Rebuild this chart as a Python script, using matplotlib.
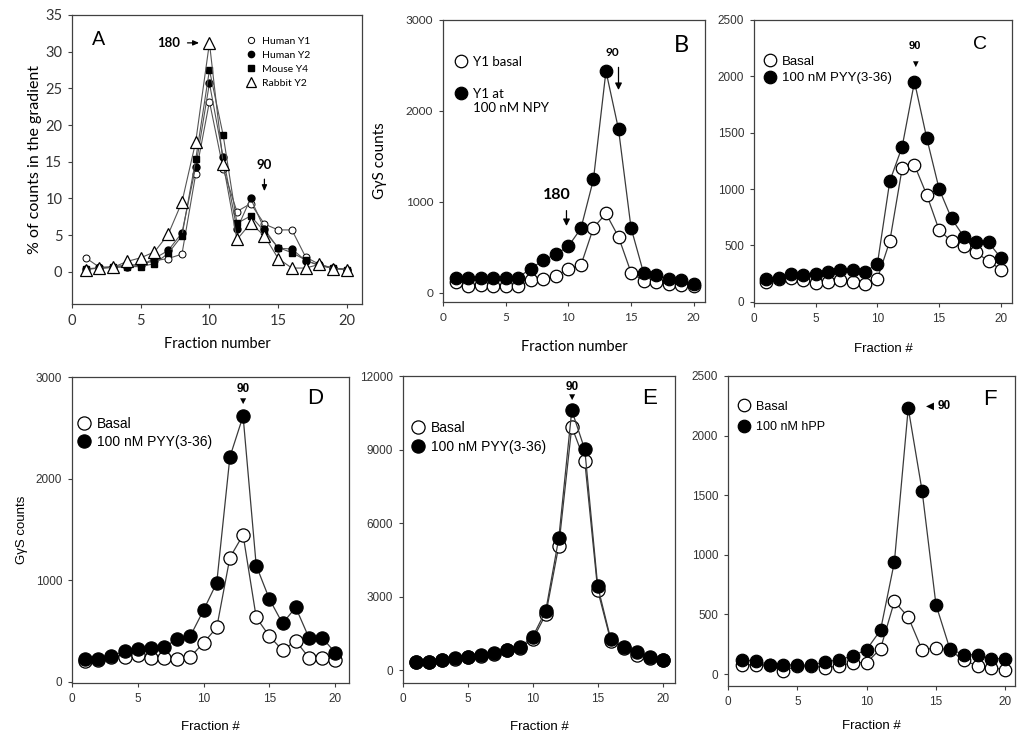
import numpy as np
import matplotlib
matplotlib.use('Agg')
import matplotlib.pyplot as plt
from matplotlib.lines import Line2D

# Fractions 1..20
fractions = np.arange(1, 21)

# Panel A, % of counts in the gradient
human_y1 = [1.9, 0.6, 0.7, 0.9, 1.0, 1.5, 1.8, 2.4, 13.3, 23.2, 14.0, 8.2, 9.3, 6.5, 5.7, 5.7, 2.0, 1.0, 0.5, 0.3]
human_y2 = [0.4, 0.5, 0.6, 0.7, 0.9, 1.8, 2.9, 5.3, 14.3, 25.7, 15.6, 5.8, 10.0, 5.8, 3.2, 3.1, 1.5, 0.9, 0.5, 0.3]
mouse_y4 = [0.4, 0.5, 0.6, 0.7, 0.7, 1.1, 2.5, 4.9, 15.3, 27.5, 18.6, 6.6, 7.6, 5.5, 3.3, 2.6, 1.6, 0.8, 0.5, 0.3]
rabbit_y2 = [0.3, 0.5, 0.6, 1.4, 1.9, 2.7, 5.1, 9.5, 17.7, 31.2, 14.7, 4.4, 6.6, 4.9, 1.8, 0.5, 0.5, 1.0, 0.4, 0.3]

# Panel B, Y1 GgS counts
b_basal = [121, 73, 84, 73, 73, 73, 139, 158, 183, 268, 304, 715, 873, 616, 224, 132, 121, 103, 84, 73]
b_npy = [169, 169, 169, 169, 169, 169, 268, 359, 425, 513, 708, 1247, 2438, 1800, 715, 220, 194, 158, 139, 103]

# Panel C
c_basal = [177, 200, 215, 192, 169, 177, 192, 177, 157, 207, 538, 1183, 1213, 947, 636, 538, 497, 438, 361, 287]
c_pyy = [207, 213, 243, 237, 243, 266, 287, 281, 266, 340, 1071, 1375, 1952, 1449, 1000, 740, 577, 527, 527, 390]

# Panel D
d_basal = [207, 214, 247, 247, 263, 237, 237, 224, 247, 385, 536, 1224, 1447, 635, 450, 312, 405, 240, 240, 214]
d_pyy = [224, 224, 253, 306, 329, 339, 345, 421, 454, 707, 977, 2214, 2615, 1145, 816, 576, 734, 437, 437, 289]

# Panel E
e_basal = [330, 330, 400, 460, 530, 590, 670, 800, 900, 1255, 2278, 5074, 9930, 8525, 3246, 1200, 900, 614, 500, 400]
e_pyy = [341, 341, 409, 477, 546, 600, 682, 818, 927, 1364, 2428, 5388, 10600, 9003, 3410, 1255, 955, 723, 518, 409]

# Panel F
f_basal = [74, 80, 74, 27, 69, 69, 52, 69, 96, 96, 212, 610, 478, 203, 220, 203, 115, 69, 52, 38]
f_hpp = [121, 107, 80, 80, 74, 74, 102, 121, 151, 206, 368, 940, 2231, 1536, 582, 212, 162, 162, 129, 129]

CAL = ['Lato', 'DejaVu Sans']
ARI = ['Liberation Sans', 'DejaVu Sans']
LINE = '#3a3a3a'
SPINE = '#404040'

fig = plt.figure(figsize=(10.24, 7.47), dpi=100)

def px_axes(l, t, r, b):
    return fig.add_axes([l / 1024, 1 - b / 747, (r - l) / 1024, (b - t) / 747])

def style(ax, fam, tsize):
    for s in ax.spines.values():
        s.set_color(SPINE)
        s.set_linewidth(0.9)
    ax.set_xticks([0, 5, 10, 15, 20])
    ax.tick_params(direction='out', length=3, width=0.8, colors=SPINE, labelsize=tsize, pad=4)
    for lab in ax.get_xticklabels() + ax.get_yticklabels():
        lab.set_family(fam)
        lab.set_color('#333333')

def pair(ax, x, basal, treated, ms):
    ax.plot(x, basal, '-', color=LINE, lw=0.9, marker='o', ms=ms, mfc='white', mec='black', mew=0.9, zorder=3)
    ax.plot(x, treated, '-', color=LINE, lw=0.9, marker='o', ms=ms, mfc='black', mec='black', mew=0.9, zorder=4)

def two_legend(ax, labels, anchor, fam, fs, ms, spacing):
    hs = [Line2D([], [], ls='none', marker='o', ms=ms, mfc='white', mec='black', mew=0.9),
          Line2D([], [], ls='none', marker='o', ms=ms, mfc='black', mec='black', mew=0.9)]
    ax.legend(hs, labels, loc='upper left', bbox_to_anchor=anchor, frameon=False,
              prop={'family': fam, 'size': fs}, handlelength=1.0, handletextpad=0.4,
              labelspacing=spacing, borderaxespad=0, borderpad=0)

# ---------------- Panel A ----------------
axA = px_axes(72, 15, 362, 304)
axA.plot(fractions, human_y1, '-', color='#555555', lw=0.8, marker='o', ms=5, mfc='white', mec='black', mew=0.7, label='Human Y1')
axA.plot(fractions, human_y2, '-', color='#555555', lw=0.8, marker='o', ms=5, mfc='black', mec='black', label='Human Y2')
axA.plot(fractions, mouse_y4, '-', color='#555555', lw=0.8, marker='s', ms=4.5, mfc='black', mec='black', label='Mouse Y4')
axA.plot(fractions, rabbit_y2, '-', color='#555555', lw=0.8, marker='^', ms=8, mfc='white', mec='black', mew=0.9, label='Rabbit Y2')
axA.set_xlim(0, 21.1)
axA.set_ylim(-4.4, 35)
axA.set_yticks(np.arange(0, 36, 5))
style(axA, CAL, 10.5)
axA.set_xlabel('Fraction number', family=CAL, fontsize=10.5)
axA.set_ylabel('% of counts in the gradient', family=CAL, fontsize=11.5)
axA.xaxis.set_label_coords(0.5, -0.115)
axA.yaxis.set_label_coords(-0.105, 0.5)
hsA = [Line2D([], [], ls='none', marker='o', ms=4.5, mfc='white', mec='black', mew=0.7),
       Line2D([], [], ls='none', marker='o', ms=4.5, mfc='black', mec='black'),
       Line2D([], [], ls='none', marker='s', ms=4, mfc='black', mec='black'),
       Line2D([], [], ls='none', marker='^', ms=7, mfc='white', mec='black', mew=0.9)]
axA.legend(hsA, ['Human Y1', 'Human Y2', 'Mouse Y4', 'Rabbit Y2'], loc='upper left',
           bbox_to_anchor=(0.6, 0.925), frameon=False, prop={'family': CAL, 'size': 7.5},
           handlelength=1.0, handletextpad=0.5, labelspacing=0.45, borderaxespad=0, borderpad=0)
axA.text(1.9, 31.6, 'A', family=CAL, fontsize=14, ha='center', va='center')
axA.annotate('', xy=(9.45, 31.2), xytext=(8.2, 31.2),
             arrowprops=dict(arrowstyle='-|>,head_width=0.15,head_length=0.35', color='black', lw=0.9))
axA.text(7.0, 31.2, '180', family=CAL, fontsize=9.5, fontweight='bold', ha='center', va='center')
axA.text(14.0, 14.5, '90', family=CAL, fontsize=9.5, fontweight='bold', ha='center', va='center')
axA.annotate('', xy=(14.0, 10.6), xytext=(14.0, 13.0),
             arrowprops=dict(arrowstyle='-|>,head_width=0.15,head_length=0.35', color='black', lw=0.9))

# ---------------- Panel B ----------------
axB = px_axes(443, 20, 705, 302)
pair(axB, fractions, b_basal, b_npy, 9)
axB.set_xlim(0, 20.9)
axB.set_ylim(-100, 3000)
axB.set_yticks([0, 1000, 2000, 3000])
style(axB, CAL, 8.5)
axB.set_xlabel('Fraction number', family=CAL, fontsize=10.5)
axB.set_ylabel('G\u03b3S counts', family=CAL, fontsize=11)
axB.xaxis.set_label_coords(0.5, -0.135)
axB.yaxis.set_label_coords(-0.215, 0.5)
two_legend(axB, ['Y1 basal', 'Y1 at'], (0.045, 0.872), CAL, 9.5, 9, 1.5)
axB.text(0.114, 0.688, '100 nM NPY', transform=axB.transAxes, family=CAL, fontsize=9.5, va='center')
axB.text(19.0, 2720, 'B', family=CAL, fontsize=17, ha='center', va='center')
axB.text(13.5, 2640, '90', family=CAL, fontsize=8.5, fontweight='bold', ha='center', va='center')
axB.annotate('', xy=(14.0, 2200), xytext=(14.0, 2510),
             arrowprops=dict(arrowstyle='-|>,head_width=0.2,head_length=0.4', color='black', lw=0.9))
axB.text(9.1, 1080, '180', family=CAL, fontsize=11.5, fontweight='bold', ha='center', va='center')
axB.annotate('', xy=(9.85, 705), xytext=(9.85, 935),
             arrowprops=dict(arrowstyle='-|>,head_width=0.2,head_length=0.4', color='black', lw=0.9))

# ---------------- Panel C ----------------
axC = px_axes(754, 20, 1012, 303)
pair(axC, fractions, c_basal, c_pyy, 9)
axC.set_xlim(0, 20.9)
axC.set_ylim(-10, 2500)
axC.set_yticks(np.arange(0, 2501, 500))
style(axC, ARI, 8.5)
axC.set_xlabel('Fraction #', family=ARI, fontsize=9.5)
axC.xaxis.set_label_coords(0.5, -0.14)
two_legend(axC, ['Basal', '100 nM PYY(3-36)'], (0.035, 0.875), ARI, 9.5, 9, 0.35)
axC.text(18.3, 2280, 'C', family=ARI, fontsize=14, ha='center', va='center')
axC.text(13.0, 2265, '90', family=ARI, fontsize=8, fontweight='bold', ha='center', va='center')
axC.text(13.0, 2110, '\u25bc', family=ARI, fontsize=7, ha='center', va='center')

# ---------------- Panel D ----------------
axD = px_axes(72, 377, 349, 683)
pair(axD, fractions, d_basal, d_pyy, 9.5)
axD.set_xlim(0, 21.05)
axD.set_ylim(-10, 3000)
axD.set_yticks([0, 1000, 2000, 3000])
style(axD, ARI, 8.5)
axD.set_xlabel('Fraction #', family=ARI, fontsize=9.5)
axD.set_ylabel('G\u03b3S counts', family=ARI, fontsize=9.5)
axD.xaxis.set_label_coords(0.5, -0.125)
axD.yaxis.set_label_coords(-0.16, 0.5)
two_legend(axD, ['Basal', '100 nM PYY(3-36)'], (0.02, 0.87), ARI, 10, 9.5, 0.3)
axD.text(18.5, 2790, 'D', family=ARI, fontsize=16, ha='center', va='center')
axD.text(13.0, 2885, '90', family=ARI, fontsize=8.5, fontweight='bold', ha='center', va='center')
axD.text(13.0, 2765, '\u25bc', family=ARI, fontsize=7.5, ha='center', va='center')

# ---------------- Panel E ----------------
axE = px_axes(403, 376, 675, 683)
pair(axE, fractions, e_basal, e_pyy, 9.5)
axE.set_xlim(0, 20.95)
axE.set_ylim(-530, 12000)
axE.set_yticks(np.arange(0, 12001, 3000))
style(axE, ARI, 8.5)
axE.set_xlabel('Fraction #', family=ARI, fontsize=9.5)
axE.xaxis.set_label_coords(0.5, -0.125)
two_legend(axE, ['Basal', '100 nM PYY(3-36)'], (0.03, 0.855), ARI, 10, 9.5, 0.4)
axE.text(19.0, 11100, 'E', family=ARI, fontsize=16, ha='center', va='center')
axE.text(13.0, 11560, '90', family=ARI, fontsize=8.5, fontweight='bold', ha='center', va='center')
axE.text(13.0, 11130, '\u25bc', family=ARI, fontsize=7.5, ha='center', va='center')

# ---------------- Panel F ----------------
axF = px_axes(728, 376, 1015, 686)
pair(axF, fractions, f_basal, f_hpp, 9)
axF.set_xlim(0, 20.7)
axF.set_ylim(-100, 2500)
axF.set_yticks(np.arange(0, 2501, 500))
style(axF, ARI, 8.5)
axF.set_xlabel('Fraction #', family=ARI, fontsize=9.5)
axF.xaxis.set_label_coords(0.5, -0.11)
two_legend(axF, ['Basal', '100 nM hPP'], (0.035, 0.92), ARI, 9, 9, 0.65)
axF.text(18.9, 2300, 'F', family=ARI, fontsize=16, ha='center', va='center')
axF.text(14.6, 2250, '\u25c0', family=ARI, fontsize=7.5, ha='center', va='center')
axF.text(15.1, 2250, '90', family=ARI, fontsize=8.5, fontweight='bold', ha='left', va='center')

fig.savefig('out.png', dpi=100)
